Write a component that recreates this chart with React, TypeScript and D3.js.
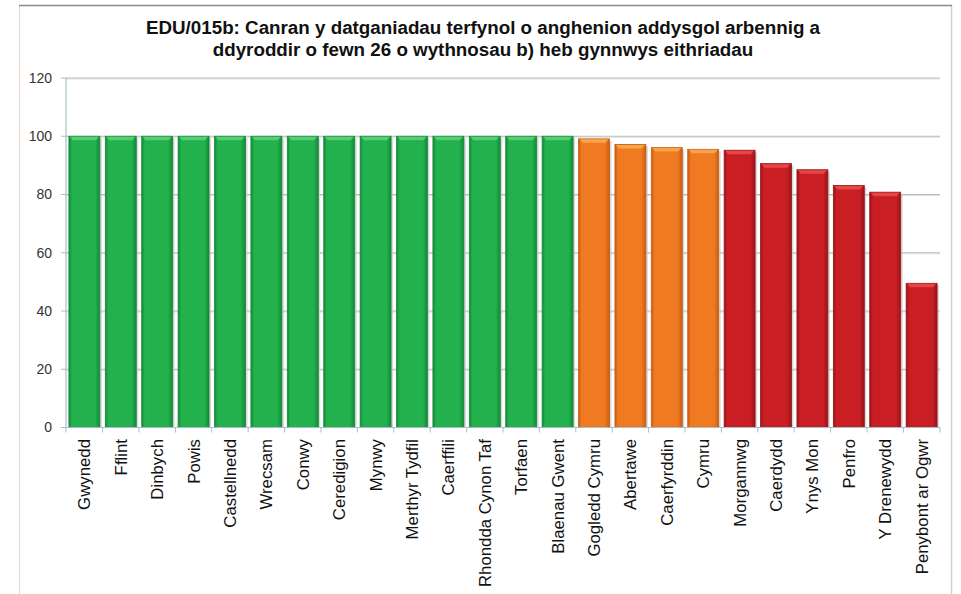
import React from "react";
import * as d3 from "d3";

const categories = [
  "Gwynedd", "Fflint", "Dinbych", "Powis", "Castellnedd", "Wrecsam", "Conwy",
  "Ceredigion", "Mynwy", "Merthyr Tydfil", "Caerffili", "Rhondda Cynon Taf",
  "Torfaen", "Blaenau Gwent", "Gogledd Cymru", "Abertawe", "Caerfyrddin",
  "Cymru", "Morgannwg", "Caerdydd", "Ynys Mon", "Penfro", "Y Drenewydd",
  "Penybont ar Ogwr",
];
const values = [
  100, 100, 100, 100, 100, 100, 100, 100, 100, 100, 100, 100, 100, 100,
  99.1, 97.2, 96.1, 95.5, 95.2, 90.6, 88.5, 83.1, 80.8, 49.5,
];
const groups = [
  "g", "g", "g", "g", "g", "g", "g", "g", "g", "g", "g", "g", "g", "g",
  "o", "o", "o", "o", "r", "r", "r", "r", "r", "r",
];
const yTicks = [0, 20, 40, 60, 80, 100, 120];
const titleLines = [
  "EDU/015b: Canran y datganiadau terfynol o anghenion addysgol arbennig a",
  "ddyroddir o fewn 26 o wythnosau b) heb gynnwys eithriadau",
];

const palette: Record<string, { base: string; dark: string; light: string }> = {
  g: { base: "#22b14c", dark: "#14893a", light: "#5cd07a" },
  o: { base: "#f07a22", dark: "#c85c12", light: "#f8a850" },
  r: { base: "#c81e24", dark: "#9a1418", light: "#e84a4a" },
};

export default function App() {
  const W = 961, H = 594;
  const left = 66, right = 940, top = 78, bottom = 427.5;
  const x = d3.scaleBand<string>().domain(categories).range([left, right]).paddingInner(0.15).paddingOuter(0.08);
  const y = d3.scaleLinear().domain([0, 120]).range([bottom, top]);
  const step = x.step();
  const bw = x.bandwidth();
  const font = "'Liberation Sans', Arial, sans-serif";
  const boundaries = categories.map((c) => x(c)! - (step - bw) / 2).concat([right]);
  boundaries[0] = left;

  return (
    <svg width={W} height={H} style={{ position: "absolute", left: 0, top: 0 }}>
      <defs>
        {Object.entries(palette).map(([k, c]) => (
          <linearGradient key={k} id={"grad-" + k} x1="0" x2="1" y1="0" y2="0">
            <stop offset="0%" stopColor={c.dark} />
            <stop offset="10%" stopColor={c.base} />
            <stop offset="85%" stopColor={c.base} />
            <stop offset="100%" stopColor={c.dark} />
          </linearGradient>
        ))}
      </defs>
      <rect x={0} y={0} width={W} height={H} fill="#fff" />
      {/* frame */}
      <line x1={19.5} x2={19.5} y1={5} y2={H} stroke="#e8d4cc" strokeWidth={1} />
      <line x1={951.5} x2={951.5} y1={5} y2={H} stroke="#d8d0cc" strokeWidth={1.5} />
      <line x1={19} x2={952} y1={5.5} y2={5.5} stroke="#8a8a8a" strokeWidth={1.5} />

      {/* title */}
      {titleLines.map((t, i) => (
        <text key={i} x={483} y={34 + i * 21.5} textAnchor="middle" fontFamily={font}
          fontWeight="bold" fontSize={18.8} fill="#111">{t}</text>
      ))}

      {/* gridlines */}
      {yTicks.filter((t) => t > 0).map((t) => (
        <g key={t}>
          <line x1={left} x2={right} y1={y(t) + 1} y2={y(t) + 1} stroke="#f4d8c8" strokeWidth={1} />
          <line x1={left} x2={right} y1={y(t)} y2={y(t)} stroke="#a9c1ca" strokeWidth={1} />
        </g>
      ))}

      {/* y axis */}
      <line x1={left} x2={left} y1={top} y2={bottom} stroke="#a9bfc8" strokeWidth={1.2} />
      {yTicks.map((t) => (
        <g key={t}>
          <line x1={left - 5} x2={left} y1={y(t)} y2={y(t)} stroke="#a9bfc8" strokeWidth={1} />
          <text x={52} y={y(t)} dy="0.35em" textAnchor="end" fontFamily={font}
            fontSize={14} fill="#333">{t}</text>
        </g>
      ))}

      {/* bars */}
      {categories.map((c, i) => {
        const bx = x(c)!;
        const by = y(values[i]);
        const h = bottom - by;
        const col = palette[groups[i]];
        return (
          <g key={c}>
            <rect x={bx + 2} y={by + 2} width={bw} height={h - 2} fill="#c8c8c8" opacity={0.7} />
            <rect x={bx} y={by} width={bw} height={h} fill={`url(#grad-${groups[i]})`}
              stroke={col.dark} strokeWidth={0.8} />
            <path d={`M${bx + 1},${by + 0.5} L${bx + bw - 1},${by + 0.5} L${bx + bw - 4},${by + 4} L${bx + 4},${by + 4} Z`}
              fill={col.light} opacity={0.9} />
          </g>
        );
      })}

      {/* x axis */}
      <line x1={left} x2={right} y1={bottom} y2={bottom} stroke="#a9bfc8" strokeWidth={1.2} />
      {boundaries.map((bx, i) => (
        <line key={i} x1={bx} x2={bx} y1={bottom} y2={bottom + 5} stroke="#a9bfc8" strokeWidth={1} />
      ))}

      {/* category labels */}
      {categories.map((c) => {
        const cx = x(c)! + bw / 2;
        return (
          <text key={c} transform={`translate(${cx},439) rotate(-90)`} dy="0.36em"
            textAnchor="end" fontFamily={font} fontSize={16.8} fill="#111">{c}</text>
        );
      })}
    </svg>
  );
}
